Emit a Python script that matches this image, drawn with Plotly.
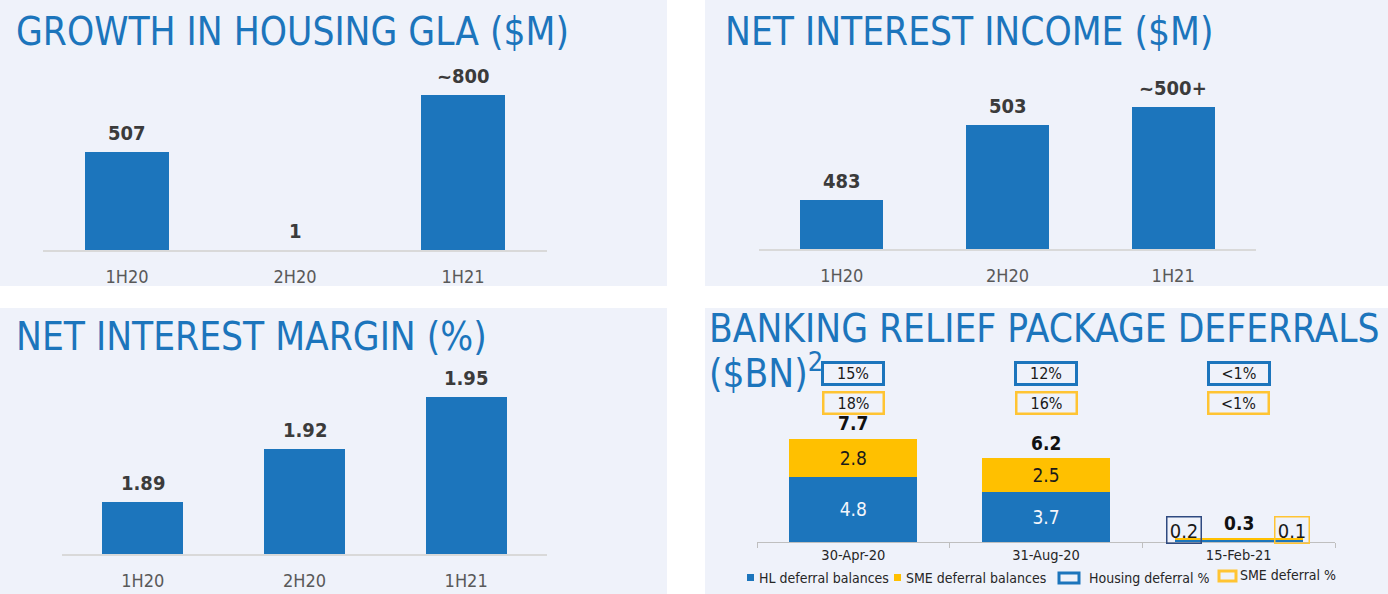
import plotly.graph_objects as go

W, H = 1388, 594

# data
periods = ["1H20", "2H20", "1H21"]
gla_values = [507, 1, 800]
gla_labels = ["507", "1", "~800"]
nii_values = [483, 503, 508]
nii_labels = ["483", "503", "~500+"]
nim_values = [1.89, 1.92, 1.95]
nim_labels = ["1.89", "1.92", "1.95"]

dates = ["30-Apr-20", "31-Aug-20", "15-Feb-21"]
hl_balances = [4.8, 3.7, 0.2]
sme_balances = [2.8, 2.5, 0.1]
total_balances = [7.7, 6.2, 0.3]
housing_pct = ["15%", "12%", "<1%"]
sme_pct = ["18%", "16%", "<1%"]

BLUE = "#1c75bc"
YELLOW = "#ffc000"
PANEL = "#eff2fa"
FONT = "DejaVu Sans Condensed, DejaVu Sans, sans-serif"


def px(x):
    return x / W


def py(y):
    return 1 - y / H


fig = go.Figure()

# simple bar panels
for ax, vals in [("", gla_values), ("2", nii_values), ("3", nim_values)]:
    fig.add_trace(go.Bar(x=periods, y=vals, xaxis="x" + ax, yaxis="y" + ax,
                         marker=dict(color=BLUE, line_width=0), width=0.5,
                         hoverinfo="skip", showlegend=False))

# stacked deferrals
fig.add_trace(go.Bar(x=dates, y=hl_balances, xaxis="x4", yaxis="y4", name="HL deferral balances",
                     marker=dict(color=BLUE, line_width=0), width=0.665,
                     text=[str(v) for v in hl_balances], textposition=["inside", "inside", "none"],
                     insidetextanchor="middle", textfont=dict(color="#f4f6fb", size=19, family=FONT),
                     hoverinfo="skip", showlegend=False))
fig.add_trace(go.Bar(x=dates, y=sme_balances, xaxis="x4", yaxis="y4", name="SME deferral balances",
                     marker=dict(color=YELLOW, line_width=0), width=0.665,
                     text=[str(v) for v in sme_balances], textposition=["inside", "inside", "none"],
                     insidetextanchor="middle", textfont=dict(color="#1a1a1a", size=19, family=FONT),
                     hoverinfo="skip", showlegend=False))

tick_common = dict(type="category", showgrid=False, zeroline=False, fixedrange=True)
simple_x = dict(tick_common, showline=True, linecolor="#d9d9d9", linewidth=2,
                ticks="outside", ticklen=9, tickcolor="rgba(0,0,0,0)",
                tickfont=dict(size=18, color="#595959", family=FONT))

fig.update_layout(
    width=W, height=H, margin=dict(l=0, r=0, t=0, b=0),
    paper_bgcolor="white", plot_bgcolor="rgba(0,0,0,0)",
    barmode="stack", font=dict(family=FONT),
    xaxis=dict(simple_x, domain=[px(43), px(547)], anchor="y"),
    yaxis=dict(domain=[py(250), py(56.5)], range=[0, 1000], visible=False, anchor="x"),
    xaxis2=dict(simple_x, domain=[px(759), px(1256)], anchor="y2"),
    yaxis2=dict(domain=[py(249), py(61.5)], range=[470, 520], visible=False, anchor="x2"),
    xaxis3=dict(simple_x, domain=[px(62), px(547)], anchor="y3"),
    yaxis3=dict(domain=[py(554), py(361.5)], range=[1.86, 1.97], visible=False, anchor="x3"),
    xaxis4=dict(tick_common, domain=[px(757), px(1335)], anchor="y4",
                showline=True, linecolor="#bfbfbf", linewidth=1,
                ticks="outside", tickson="boundaries", ticklen=5, tickcolor="#bfbfbf",
                tickfont=dict(size=14.5, color="#262626", family=FONT)),
    yaxis4=dict(domain=[py(542), py(406.5)], range=[0, 10], visible=False, anchor="x4"),
)

# panel backgrounds
shapes = []
for x0, y0, x1, y1 in [(0, 0, 667, 286), (705, 0, 1388, 286), (0, 308, 667, 594), (705, 308, 1388, 594)]:
    shapes.append(dict(type="rect", xref="paper", yref="paper", x0=px(x0), x1=px(x1),
                       y0=py(y1), y1=py(y0), fillcolor=PANEL, line_width=0, layer="below"))

ann = []
# titles
for x, y, t in [(14, 31, "GROWTH IN HOUSING GLA ($M)"), (723, 31, "NET INTEREST INCOME ($M)"),
                (14, 336, "NET INTEREST MARGIN (%)"), (707, 328, "BANKING RELIEF PACKAGE DEFERRALS"),
                (707, 371, "($BN)<sup>2</sup>")]:
    ann.append(dict(x=px(x), y=py(y), xref="paper", yref="paper", xanchor="left", yanchor="middle",
                    text=t, showarrow=False, font=dict(size=38.5, color=BLUE, family=FONT)))

# value labels above bars
for ax, vals, labels in [("", gla_values, gla_labels), ("2", nii_values, nii_labels),
                         ("3", nim_values, nim_labels)]:
    for cat, v, lab in zip(periods, vals, labels):
        ann.append(dict(x=cat, y=v, xref="x" + ax, yref="y" + ax, yanchor="bottom", yshift=5,
                        text="<b>" + lab + "</b>", showarrow=False,
                        font=dict(size=20, color="#3b3b3b", family=FONT)))

for cat, tot in zip(dates, total_balances):
    ann.append(dict(x=cat, y=tot, xref="x4", yref="y4", yanchor="bottom", yshift=2,
                    text="<b>" + str(tot) + "</b>", showarrow=False,
                    font=dict(size=19, color="#111111", family=FONT)))

# deferral % boxes
for cat, hp, sp in zip(dates, housing_pct, sme_pct):
    ann.append(dict(x=cat, y=py(373.5), xref="x4", yref="paper", xanchor="center", yanchor="middle",
                    text=hp, showarrow=False,
                    width=58, height=19, borderwidth=3, bordercolor=BLUE, borderpad=0, valign="bottom",
                    font=dict(size=16, color="#1a1a1a", family=FONT)))
    ann.append(dict(x=cat, y=py(403), xref="x4", yref="paper", xanchor="center", yanchor="middle",
                    text=sp, showarrow=False,
                    width=58, height=19, borderwidth=2.5, bordercolor="#ffc433", borderpad=0, valign="bottom",
                    font=dict(size=16, color="#1a1a1a", family=FONT)))

# small boxed balances for the last date
for shift, val, col in [(-55, hl_balances[2], "#2f4a80"), (53, sme_balances[2], "#ffc433")]:
    ann.append(dict(x=dates[2], y=py(530), xref="x4", yref="paper", xanchor="center", yanchor="middle",
                    xshift=shift, text=str(val), showarrow=False, width=33, height=25,
                    borderwidth=1.5, bordercolor=col, borderpad=0, valign="bottom",
                    font=dict(size=20, color="#1a1a1a", family=FONT)))

# legend drawn by hand
for x0, y0, x1, y1, c in [(747, 574, 754, 581, BLUE), (894, 574, 901, 581, YELLOW)]:
    shapes.append(dict(type="rect", xref="paper", yref="paper", x0=px(x0), x1=px(x1),
                       y0=py(y1), y1=py(y0), fillcolor=c, line_width=0))
for x0, y0, x1, y1, c in [(1059, 573, 1079, 583, BLUE), (1219, 571, 1236, 581, "#ffc433")]:
    shapes.append(dict(type="rect", xref="paper", yref="paper", x0=px(x0), x1=px(x1),
                       y0=py(y1), y1=py(y0), fillcolor="rgba(0,0,0,0)", line=dict(color=c, width=3)))
for x, y, t in [(757, 578, "HL deferral balances"), (904, 578, "SME deferral balances"),
                (1087, 578, "Housing deferral %"), (1238, 575, "SME deferral %")]:
    ann.append(dict(x=px(x), y=py(y), xref="paper", yref="paper", xanchor="left", yanchor="middle",
                    text=t, showarrow=False, font=dict(size=14, color="#262626", family=FONT)))

fig.update_layout(shapes=shapes, annotations=ann)

fig.write_html("out.html", config={"displayModeBar": False},
               post_script="document.body.style.margin='0';")
